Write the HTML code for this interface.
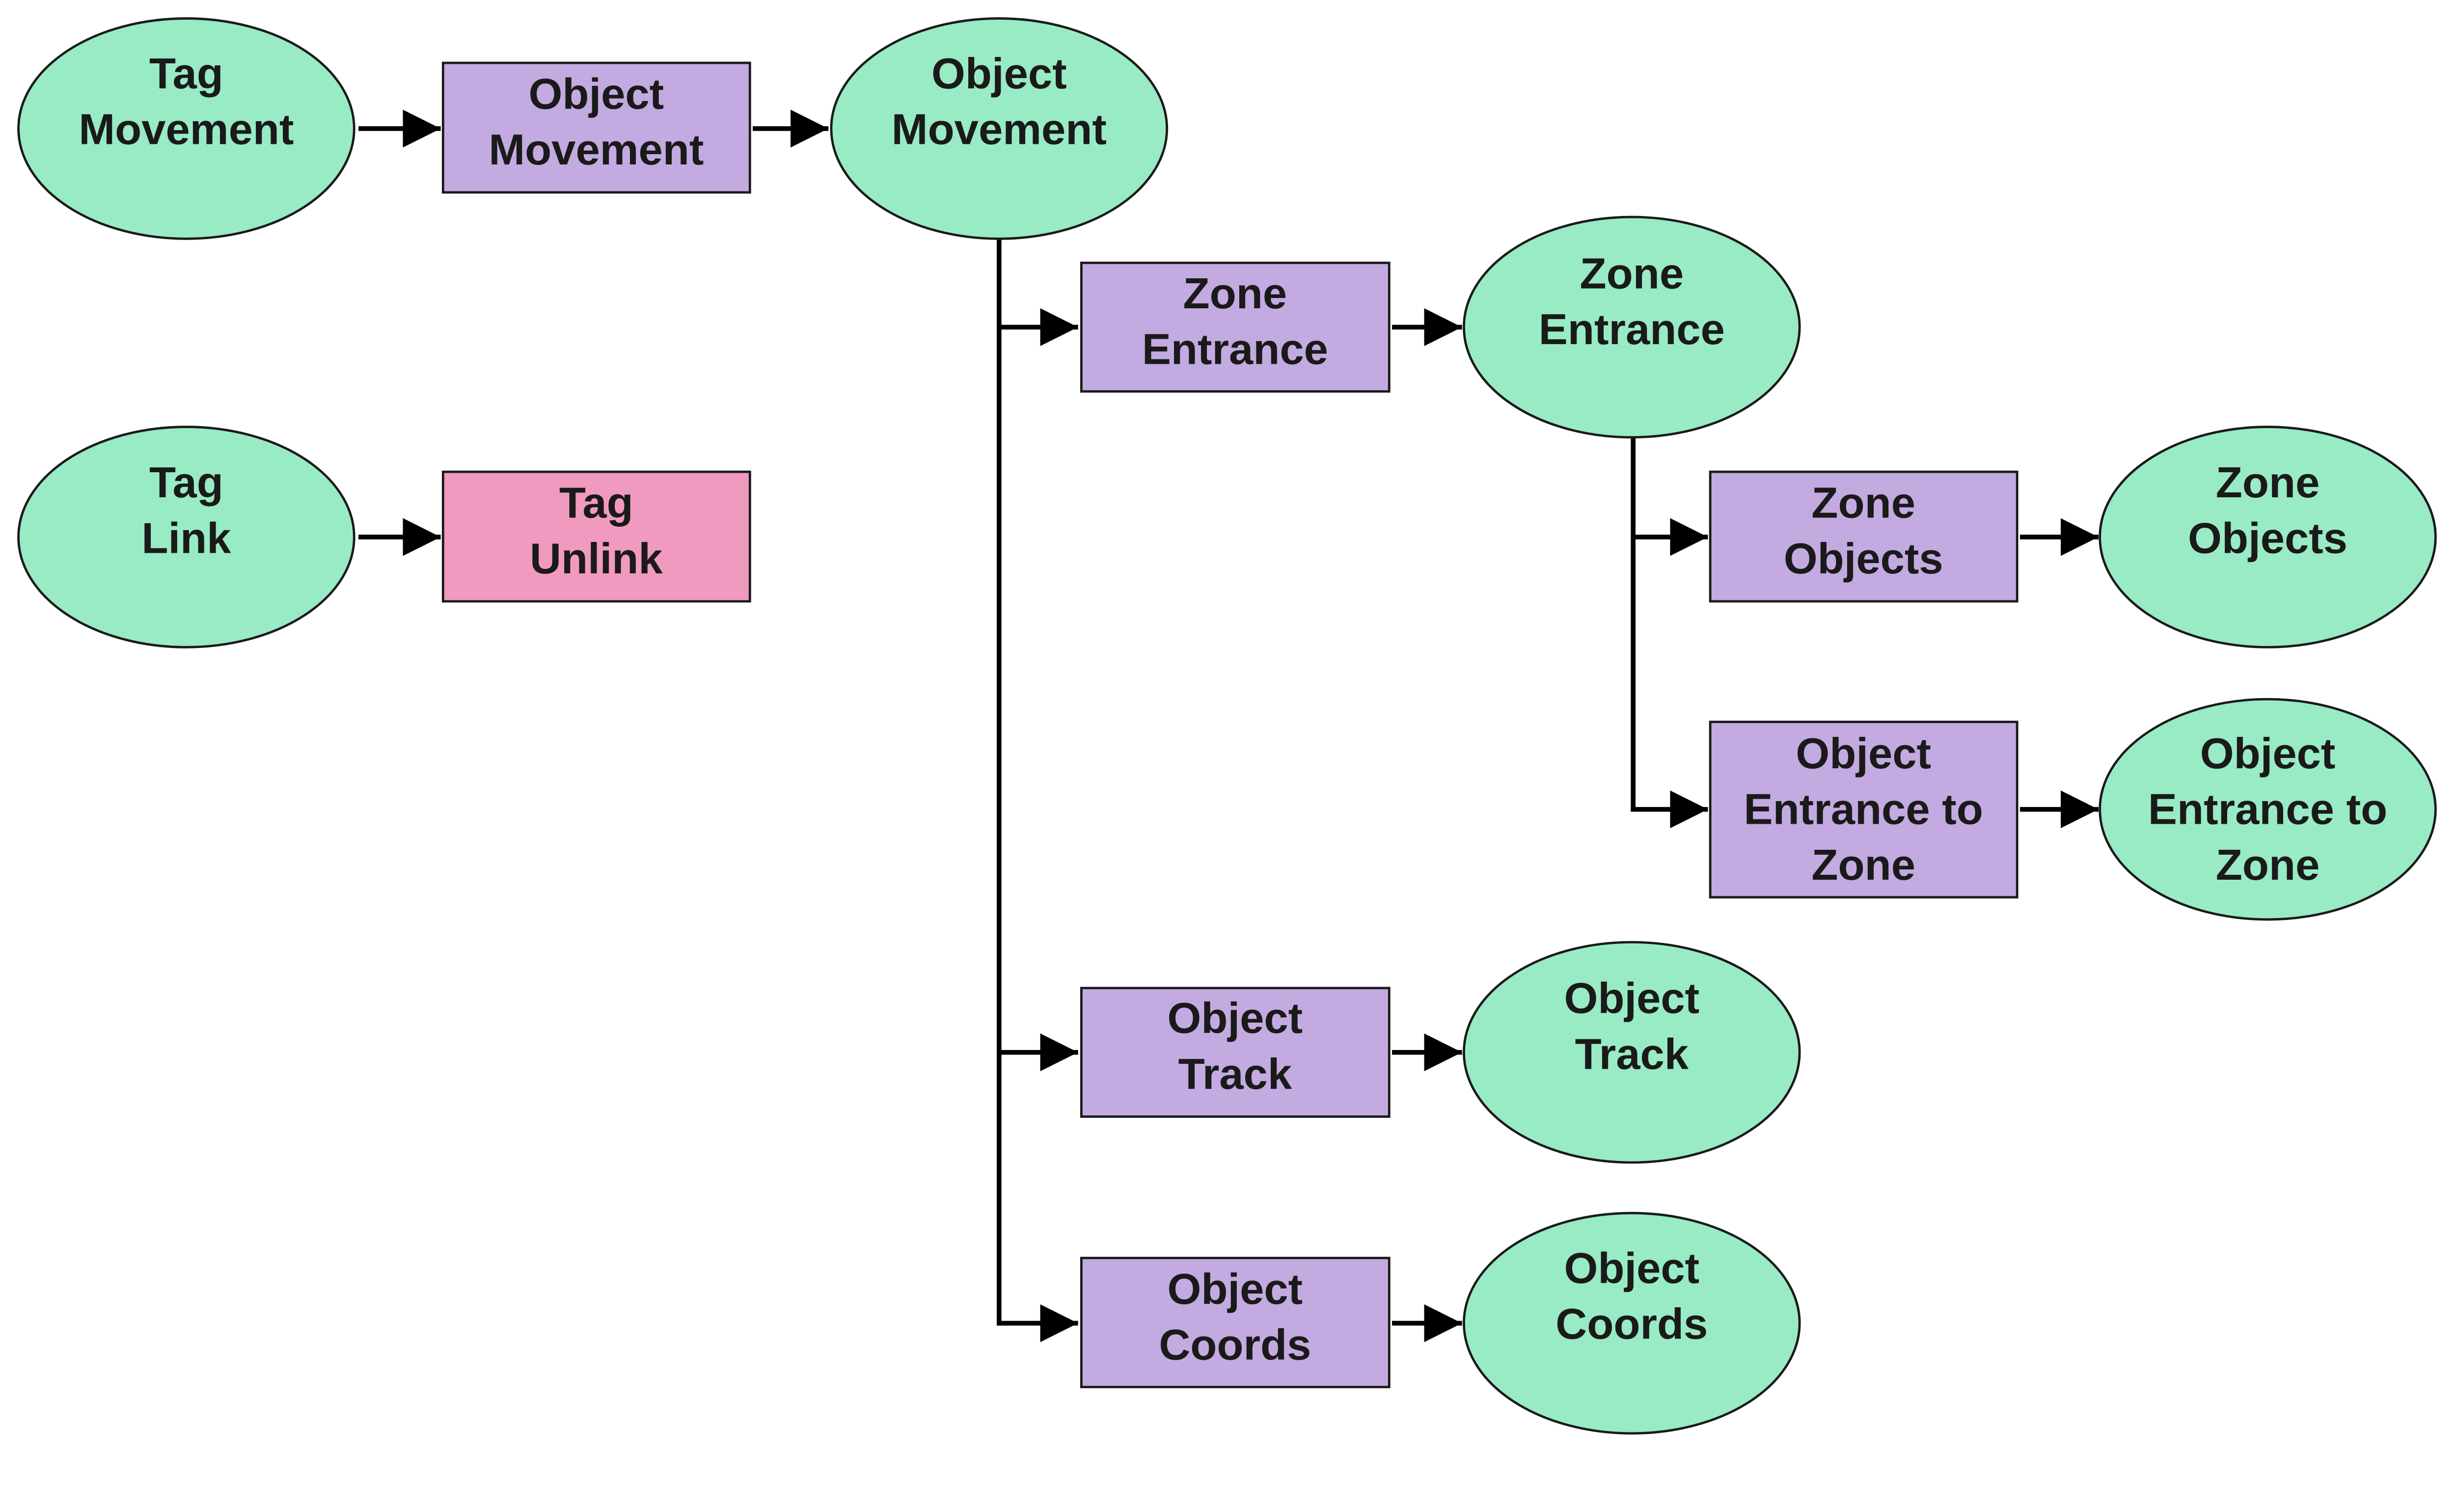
<!DOCTYPE html>
<html><head><meta charset="utf-8"><style>html,body{margin:0;padding:0;background:#fff}svg{display:block}</style></head><body>
<svg width="5193" height="3080" viewBox="0 0 5193 3080" xmlns="http://www.w3.org/2000/svg">
<defs>
<marker id="a" markerWidth="8" markerHeight="8" refX="8" refY="4" orient="auto" markerUnits="strokeWidth"><path d="M0,0 L8,4 L0,8 z" fill="#000"/></marker>
</defs>
<g transform="scale(0.963)">
<g fill="none" stroke="#000" stroke-width="10">
<line x1="758" y1="272" x2="932" y2="272" marker-end="url(#a)"/>
<line x1="1592" y1="272" x2="1752" y2="272" marker-end="url(#a)"/>
<line x1="758" y1="1136" x2="932" y2="1136" marker-end="url(#a)"/>
<line x1="2113" y1="503" x2="2113" y2="2804"/>
<line x1="2108" y1="692" x2="2280" y2="692" marker-end="url(#a)"/>
<line x1="2108" y1="2226" x2="2280" y2="2226" marker-end="url(#a)"/>
<line x1="2108" y1="2799" x2="2280" y2="2799" marker-end="url(#a)"/>
<line x1="2944" y1="692" x2="3092" y2="692" marker-end="url(#a)"/>
<line x1="2944" y1="2226" x2="3092" y2="2226" marker-end="url(#a)"/>
<line x1="2944" y1="2799" x2="3092" y2="2799" marker-end="url(#a)"/>
<line x1="3454" y1="927" x2="3454" y2="1717"/>
<line x1="3449" y1="1136" x2="3612" y2="1136" marker-end="url(#a)"/>
<line x1="3449" y1="1712" x2="3612" y2="1712" marker-end="url(#a)"/>
<line x1="4272" y1="1136" x2="4438" y2="1136" marker-end="url(#a)"/>
<line x1="4272" y1="1712" x2="4438" y2="1712" marker-end="url(#a)"/>
</g>
<g stroke="#1a1a1a" stroke-width="5">
<ellipse cx="394" cy="272" rx="355" ry="233" fill="#98EBC4"/>
<ellipse cx="2113" cy="272" rx="355" ry="233" fill="#98EBC4"/>
<ellipse cx="394" cy="1136" rx="355" ry="233" fill="#98EBC4"/>
<ellipse cx="3451" cy="692" rx="355" ry="233" fill="#98EBC4"/>
<ellipse cx="4796" cy="1136" rx="355" ry="233" fill="#98EBC4"/>
<ellipse cx="4796" cy="1712" rx="355" ry="233" fill="#98EBC4"/>
<ellipse cx="3451" cy="2226" rx="355" ry="233" fill="#98EBC4"/>
<ellipse cx="3451" cy="2799" rx="355" ry="233" fill="#98EBC4"/>
<rect x="937" y="133" width="649" height="274" fill="#C3AAE0"/>
<rect x="937" y="998" width="649" height="274" fill="#F09AC0"/>
<rect x="2287" y="556" width="651" height="272" fill="#C3AAE0"/>
<rect x="3617" y="998" width="649" height="274" fill="#C3AAE0"/>
<rect x="3617" y="1527" width="649" height="371" fill="#C3AAE0"/>
<rect x="2287" y="2090" width="651" height="272" fill="#C3AAE0"/>
<rect x="2287" y="2661" width="651" height="273" fill="#C3AAE0"/>
</g>
<g font-family="'Liberation Sans', sans-serif" font-weight="bold" font-size="92" fill="#1a1a1a" text-anchor="middle">
<text x="394" y="187">Tag</text><text x="394" y="305">Movement</text>
<text x="1261" y="230">Object</text><text x="1261" y="348">Movement</text>
<text x="2113" y="187">Object</text><text x="2113" y="305">Movement</text>
<text x="394" y="1052">Tag</text><text x="394" y="1170">Link</text>
<text x="1261" y="1095">Tag</text><text x="1261" y="1213">Unlink</text>
<text x="2612" y="652">Zone</text><text x="2612" y="770">Entrance</text>
<text x="3451" y="610">Zone</text><text x="3451" y="728">Entrance</text>
<text x="3941" y="1095">Zone</text><text x="3941" y="1213">Objects</text>
<text x="4796" y="1052">Zone</text><text x="4796" y="1170">Objects</text>
<text x="3941" y="1625">Object</text><text x="3941" y="1743">Entrance to</text><text x="3941" y="1861">Zone</text>
<text x="4796" y="1625">Object</text><text x="4796" y="1743">Entrance to</text><text x="4796" y="1861">Zone</text>
<text x="2612" y="2185">Object</text><text x="2612" y="2303">Track</text>
<text x="3451" y="2143">Object</text><text x="3451" y="2261">Track</text>
<text x="2612" y="2758">Object</text><text x="2612" y="2876">Coords</text>
<text x="3451" y="2714">Object</text><text x="3451" y="2832">Coords</text>
</g>
</g>
</svg>
</body></html>
